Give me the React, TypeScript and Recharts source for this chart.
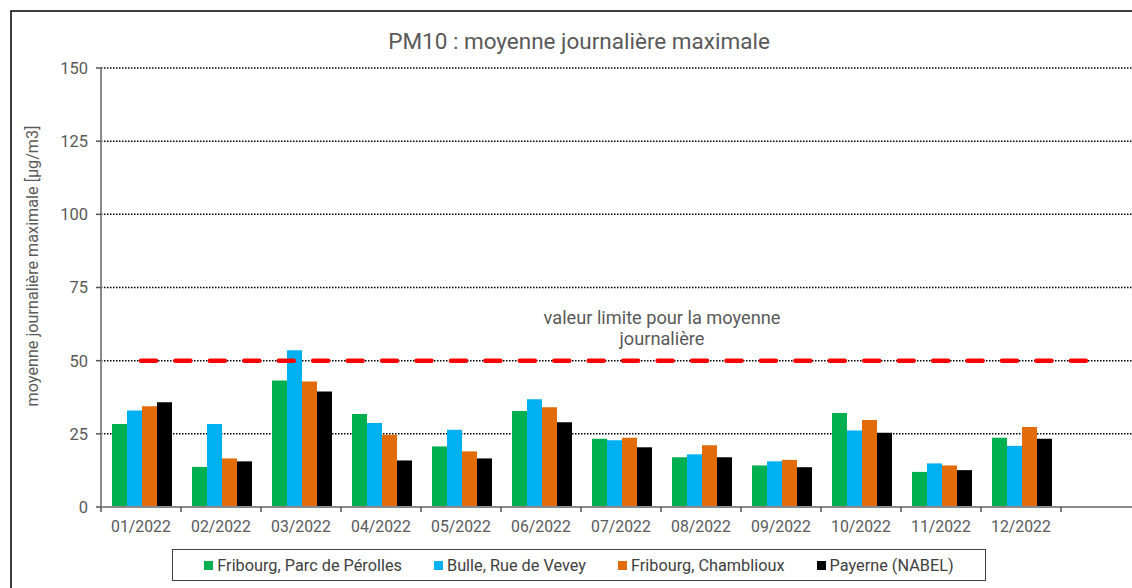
import React from 'react';
import { BarChart, Bar, XAxis, YAxis, CartesianGrid, ReferenceLine, Customized } from 'recharts';

const months = ['01/2022', '02/2022', '03/2022', '04/2022', '05/2022', '06/2022', '07/2022', '08/2022', '09/2022', '10/2022', '11/2022', '12/2022'];
const perolles = [28.4, 13.7, 43.2, 31.8, 20.7, 32.8, 23.3, 17.0, 14.2, 32.1, 12.0, 23.7];
const bulle = [33.0, 28.4, 53.6, 28.7, 26.4, 36.8, 22.8, 18.0, 15.6, 26.1, 14.9, 20.9];
const chamblioux = [34.4, 16.6, 42.9, 24.7, 19.0, 34.1, 23.7, 21.1, 16.1, 29.7, 14.2, 27.3];
const payerne = [35.8, 15.6, 39.5, 15.9, 16.6, 29.0, 20.4, 17.0, 13.6, 25.4, 12.6, 23.3];
const yTicks = [0, 25, 50, 75, 100, 125, 150];
const limitValue = 50;

const seriesNames = ['Fribourg, Parc de Pérolles', 'Bulle, Rue de Vevey', 'Fribourg, Chamblioux', 'Payerne (NABEL)'];
const seriesKeys = ['perolles', 'bulle', 'chamblioux', 'payerne'];
const seriesColors = ['#00B050', '#00B0F0', '#E36C0A', '#000000'];

const data = months.map((m, i) => ({
  month: m,
  perolles: perolles[i],
  bulle: bulle[i],
  chamblioux: chamblioux[i],
  payerne: payerne[i],
}));

const FONT = 'Roboto, "Noto Sans", sans-serif';
const TEXT = '#595959';
const AXIS = '#8a8a8a';

const XTick = (props: any) => {
  const { x, y, payload, index, visibleTicksCount } = props;
  const half = payload && typeof payload.offset === 'number' && payload.offset > 0 ? payload.offset : 40;
  const last = index === visibleTicksCount - 1;
  return (
    <g>
      <line x1={x - half} y1={y} x2={x - half} y2={y + 5} stroke="#555" strokeWidth={1.5} />
      {last && <line x1={x + half} y1={y} x2={x + half} y2={y + 5} stroke="#555" strokeWidth={1.5} />}
      <text x={x} y={y + 14} dy="0.71em" textAnchor="middle" fill={TEXT} fontSize={15.8} fontFamily={FONT}>
        {payload.value}
      </text>
    </g>
  );
};

const LimitShape = (p: any) => (
  <line
    x1={p.x1 + 40}
    y1={p.y1}
    x2={p.x2 - 32}
    y2={p.y2}
    stroke="#FF0000"
    strokeWidth={4.5}
    strokeDasharray="15 19.44"
    strokeLinecap="round"
  />
);

const Decor = () => (
  <g>
    <rect x={11} y={11} width={1200} height={700} fill="none" stroke="#000" strokeWidth={1.5} />
    <text x={579} y={49} textAnchor="middle" fill={TEXT} fontSize={22.5} fontFamily={FONT}>
      PM10 : moyenne journalière maximale
    </text>
    <text
      x={38}
      y={266}
      textAnchor="middle"
      fill={TEXT}
      fontSize={16.2}
      fontFamily={FONT}
      transform="rotate(-90 38 266)"
    >
      moyenne journalière maximale [µg/m3]
    </text>
    <text x={662} y={324} textAnchor="middle" fill={TEXT} fontSize={18.2} fontFamily={FONT}>
      valeur limite pour la moyenne
    </text>
    <text x={662} y={345} textAnchor="middle" fill={TEXT} fontSize={18.2} fontFamily={FONT}>
      journalière
    </text>
  </g>
);

export default function App() {
  return (
    <div style={{ position: 'absolute', left: 0, top: 0, width: 1132, height: 588, background: '#fff', overflow: 'hidden' }}>
      <BarChart
        width={1132}
        height={588}
        data={data}
        margin={{ top: 68, right: 0, bottom: 51, left: 0 }}
        barCategoryGap={11}
        barGap={0}
      >
        <CartesianGrid vertical={false} stroke="#000" strokeWidth={1.5} strokeDasharray="1.5 1.5" />
        <XAxis
          dataKey="month"
          height={30}
          padding={{ left: 0, right: 71 }}
          tickSize={0}
          tickMargin={0}
          tickLine={false}
          axisLine={{ stroke: AXIS, strokeWidth: 2 }}
          tick={<XTick />}
          interval={0}
        />
        <YAxis
          width={101}
          domain={[0, 150]}
          ticks={yTicks}
          tickSize={5}
          tickMargin={8}
          tickLine={{ stroke: '#555', strokeWidth: 1.5 }}
          axisLine={{ stroke: AXIS, strokeWidth: 2 }}
          tick={{ fill: TEXT, fontSize: 16.5, fontFamily: FONT }}
        />
        <ReferenceLine y={limitValue} shape={<LimitShape />} ifOverflow="visible" />
        {seriesKeys.map((k, i) => (
          <Bar key={k} dataKey={k} name={seriesNames[i]} fill={seriesColors[i]} isAnimationActive={false} />
        ))}
        <Customized component={Decor} />
      </BarChart>
      <div
        style={{
          position: 'absolute',
          left: 172,
          top: 549,
          width: 814,
          height: 32,
          border: '1.5px solid #404040',
          display: 'flex',
          alignItems: 'center',
          justifyContent: 'center',
          gap: 32,
          fontFamily: FONT,
          fontSize: 16.3,
          color: '#404040',
          boxSizing: 'border-box',
        }}
      >
        {seriesNames.map((n, i) => (
          <div key={n} style={{ display: 'flex', alignItems: 'center' }}>
            <span style={{ display: 'inline-block', width: 9, height: 9, background: seriesColors[i], marginRight: 4 }} />
            <span>{n}</span>
          </div>
        ))}
      </div>
    </div>
  );
}
